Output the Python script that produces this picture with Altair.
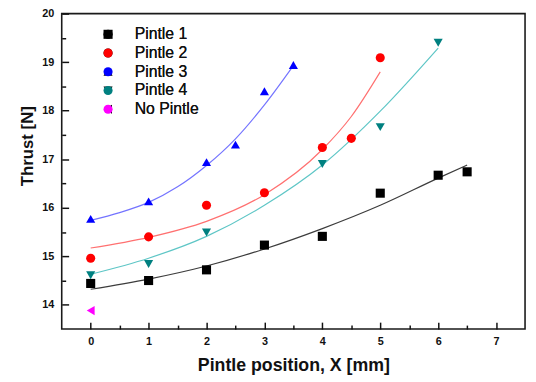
import altair as alt
import pandas as pd

# ---- data ----
series_names = ["Pintle 1", "Pintle 2", "Pintle 3", "Pintle 4", "No Pintle"]

p1_x = [0, 1, 2, 3, 4, 5, 6, 6.5]
p1_y = [14.44, 14.50, 14.72, 15.23, 15.41, 16.30, 16.67, 16.74]
p2_x = [0, 1, 2, 3, 4, 4.5, 5]
p2_y = [14.96, 15.40, 16.05, 16.31, 17.24, 17.43, 19.09]
p3_x = [0, 1, 2, 2.5, 3, 3.5]
p3_y = [15.77, 16.13, 16.94, 17.30, 18.40, 18.94]
p4_x = [0, 1, 2, 4, 5, 6]
p4_y = [14.61, 14.84, 15.49, 16.90, 17.66, 19.40]
np_x = [0]
np_y = [13.88]

# fitted curves
f1_x = [0, 1, 2, 3, 4, 5, 6, 6.5]
f1_y = [14.32, 14.53, 14.80, 15.15, 15.57, 16.05, 16.61, 16.88]
f2_x = [0, 1, 2, 3, 4, 4.5, 5]
f2_y = [15.17, 15.39, 15.72, 16.27, 17.20, 17.88, 18.80]
f3_x = [0, 0.5, 1, 1.5, 2, 2.5, 3, 3.5]
f3_y = [15.74, 15.90, 16.11, 16.43, 16.87, 17.42, 18.12, 18.93]
f4_x = [0, 1, 2, 3, 4, 5, 6]
f4_y = [14.63, 14.96, 15.41, 16.05, 16.88, 17.99, 19.29]

x_major = [0, 1, 2, 3, 4, 5, 6, 7]
x_minor = [0.5, 1.5, 2.5, 3.5, 4.5, 5.5, 6.5]
y_major = [14, 15, 16, 17, 18, 19, 20]
y_minor = [14.5, 15.5, 16.5, 17.5, 18.5, 19.5]

point_colors = ["#000000", "#ff0000", "#0000ff", "#008080", "#ff00ff"]
line_colors = ["#3c3c3c", "#ff7070", "#7474ff", "#5ec6c6"]
shapes = ["square", "circle", "triangle-up", "triangle-down", "triangle-left"]

# ---- tables ----
pts = []
for name, xs, ys in zip(series_names, [p1_x, p2_x, p3_x, p4_x, np_x],
                        [p1_y, p2_y, p3_y, p4_y, np_y]):
    for a, b in zip(xs, ys):
        pts.append({"series": name, "x": a, "y": b})
points_df = pd.DataFrame(pts)

fits = []
for name, xs, ys in zip(series_names[:4], [f1_x, f2_x, f3_x, f4_x],
                        [f1_y, f2_y, f3_y, f4_y]):
    for a, b in zip(xs, ys):
        fits.append({"series": name, "x": a, "y": b})
fit_df = pd.DataFrame(fits)

FONT = "Liberation Sans"
xscale = alt.Scale(domain=[-0.5, 7.5], nice=False, zero=False)
yscale = alt.Scale(domain=[13.5, 20], nice=False, zero=False)

legend = alt.Legend(
    title=None, orient="none", legendX=39, legendY=13, padding=0,
    labelFont=FONT, labelFontSize=16, labelColor="#111111",
    symbolSize=85, symbolStrokeWidth=0, symbolOpacity=1,
    rowPadding=3, labelOffset=19,
)

lines = alt.Chart(fit_df).mark_line(strokeWidth=1.2, interpolate="monotone").encode(
    x=alt.X("x:Q", scale=xscale,
            axis=alt.Axis(orient="bottom", values=x_minor, labels=False, domain=False,
                          grid=False, title=None, tickSize=alt.ExprRef(expr="-4"),
                          tickColor="#111111", tickWidth=1.5)),
    y=alt.Y("y:Q", scale=yscale,
            axis=alt.Axis(orient="left", values=y_minor, labels=False, domain=False,
                          grid=False, title=None, tickSize=alt.ExprRef(expr="-4"),
                          tickColor="#111111", tickWidth=1.5)),
    color=alt.Color("series:N", scale=alt.Scale(domain=series_names[:4], range=line_colors),
                    legend=None),
)

points = alt.Chart(points_df).mark_point(filled=True, opacity=1, size=85).encode(
    x=alt.X("x:Q", scale=xscale,
            axis=alt.Axis(orient="bottom", values=x_major, format="d", domain=False,
                          grid=False, title="Pintle position, X [mm]",
                          tickSize=alt.ExprRef(expr="-7"), tickColor="#111111", tickWidth=1.5,
                          labelFont=FONT, labelFontSize=11, labelFontWeight="bold",
                          labelColor="#111111", labelPadding=14,
                          titleFont=FONT, titleFontSize=18, titleFontWeight="bold",
                          titleColor="#111111", titleX=235, titleY=37,
                          titleBaseline="middle", titleAlign="center")),
    y=alt.Y("y:Q", scale=yscale,
            axis=alt.Axis(orient="left", values=y_major, format="d", domain=False,
                          grid=False, title="Thrust [N]",
                          tickSize=alt.ExprRef(expr="-7"), tickColor="#111111", tickWidth=1.5,
                          labelFont=FONT, labelFontSize=11, labelFontWeight="bold",
                          labelColor="#111111", labelPadding=15,
                          titleFont=FONT, titleFontSize=17, titleFontWeight="bold",
                          titleColor="#111111", titleAngle=270, titleX=-35, titleY=134,
                          titleBaseline="middle", titleAlign="center")),
    color=alt.Color("series:N", scale=alt.Scale(domain=series_names, range=point_colors),
                    legend=legend),
    shape=alt.Shape("series:N", scale=alt.Scale(domain=series_names, range=shapes),
                    legend=legend),
)

chart = (
    alt.layer(lines, points)
    .resolve_scale(color="independent")
    .resolve_axis(x="independent", y="independent")
    .properties(width=470, height=320,
                autosize=alt.AutoSizeParams(type="none"),
                padding={"left": 54.5, "top": 3, "right": 3, "bottom": 50},
                background="white")
    .configure_view(stroke="#1a1a1a", strokeWidth=1.6)
)

chart.save("out.html", embed_options={"renderer": "svg", "actions": False})
